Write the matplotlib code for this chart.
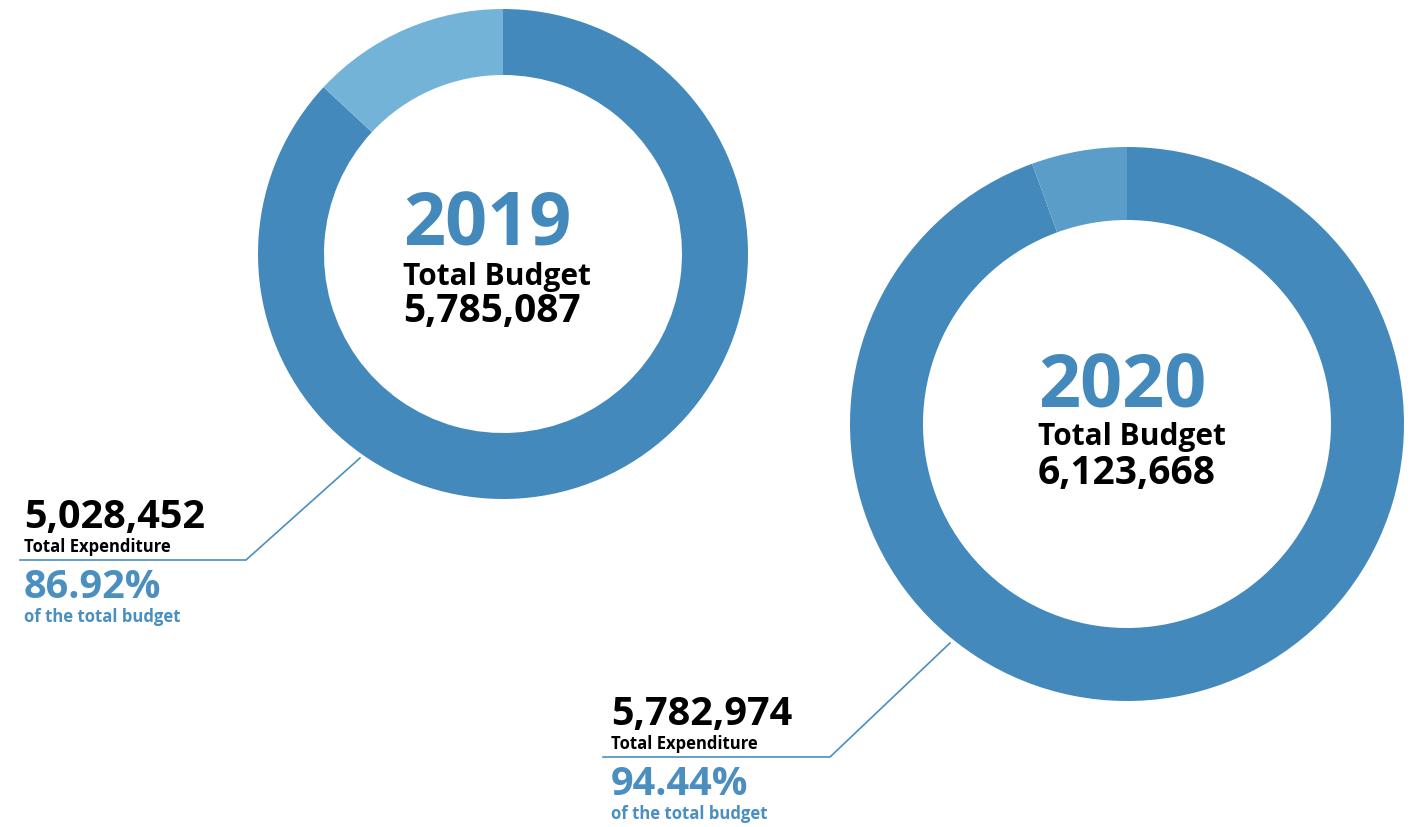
import matplotlib
matplotlib.use('Agg')
import matplotlib.pyplot as plt

years = ['2019', '2020']
budget = [5785087, 6123668]
expenditure = [5028452, 5782974]
pct_labels = ['86.92%', '94.44%']

dark = '#4389bb'
light_colors = ['#74b3d8', '#5b9dc9']
text_blue = '#4a8fc0'
font = 'Open Sans'

H = 827
fig = plt.figure(figsize=(14.14, 8.27), dpi=100)
ax = fig.add_axes([0, 0, 1, 1])

# layout in pixel units (y measured from top, flipped below)
centers = [(503, 254), (1127, 424)]
radii = [245, 277]
widths = [66, 73]
text_x = [403, 1038]
text_base = [(245, 285, 322), (407, 445, 484)]
leader = [[(360, 458), (246, 560), (20, 560)],
          [(950, 643), (830, 757), (603, 757)]]
label_pos = [(24, 560), (611, 757)]

for i in range(2):
    cx, cy = centers[i]
    spent = expenditure[i]
    rest = budget[i] - expenditure[i]
    ax.pie([spent, rest], colors=[dark, light_colors[i]],
           startangle=90, counterclock=False,
           center=(cx, H - cy), radius=radii[i],
           wedgeprops=dict(width=widths[i], linewidth=0))

    tb = text_base[i]
    ax.text(text_x[i], H - tb[0], years[i], ha='left', va='baseline',
            fontsize=53, fontweight='bold', color=dark, family=font)
    ax.text(text_x[i], H - tb[1], 'Total Budget', ha='left', va='baseline',
            fontsize=21.5, fontweight='bold', color='black', family=font)
    ax.text(text_x[i], H - tb[2], f'{budget[i]:,}', ha='left', va='baseline',
            fontsize=28, fontweight='bold', color='black', family=font)

    xs = [p[0] for p in leader[i]]
    ys = [H - p[1] for p in leader[i]]
    ax.plot(xs, ys, color=text_blue, linewidth=1.2)

    lx, ly = label_pos[i]
    ax.text(lx, H - ly + 32, f'{expenditure[i]:,}', ha='left', va='baseline',
            fontsize=28.5, fontweight='bold', color='black', family=font)
    ax.text(lx, H - ly + 8, 'Total Expenditure', ha='left', va='baseline',
            fontsize=12, fontweight='bold', color='black', family=font)
    ax.text(lx, H - ly - 38, pct_labels[i], ha='left', va='baseline',
            fontsize=28.5, fontweight='bold', color=text_blue, family=font)
    ax.text(lx, H - ly - 62, 'of the total budget', ha='left', va='baseline',
            fontsize=12, fontweight='bold', color=text_blue, family=font)

ax.set_xlim(0, 1414)
ax.set_ylim(0, H)
ax.set_aspect('equal')
ax.axis('off')

plt.savefig('out.png', dpi=100)
plt.close()
